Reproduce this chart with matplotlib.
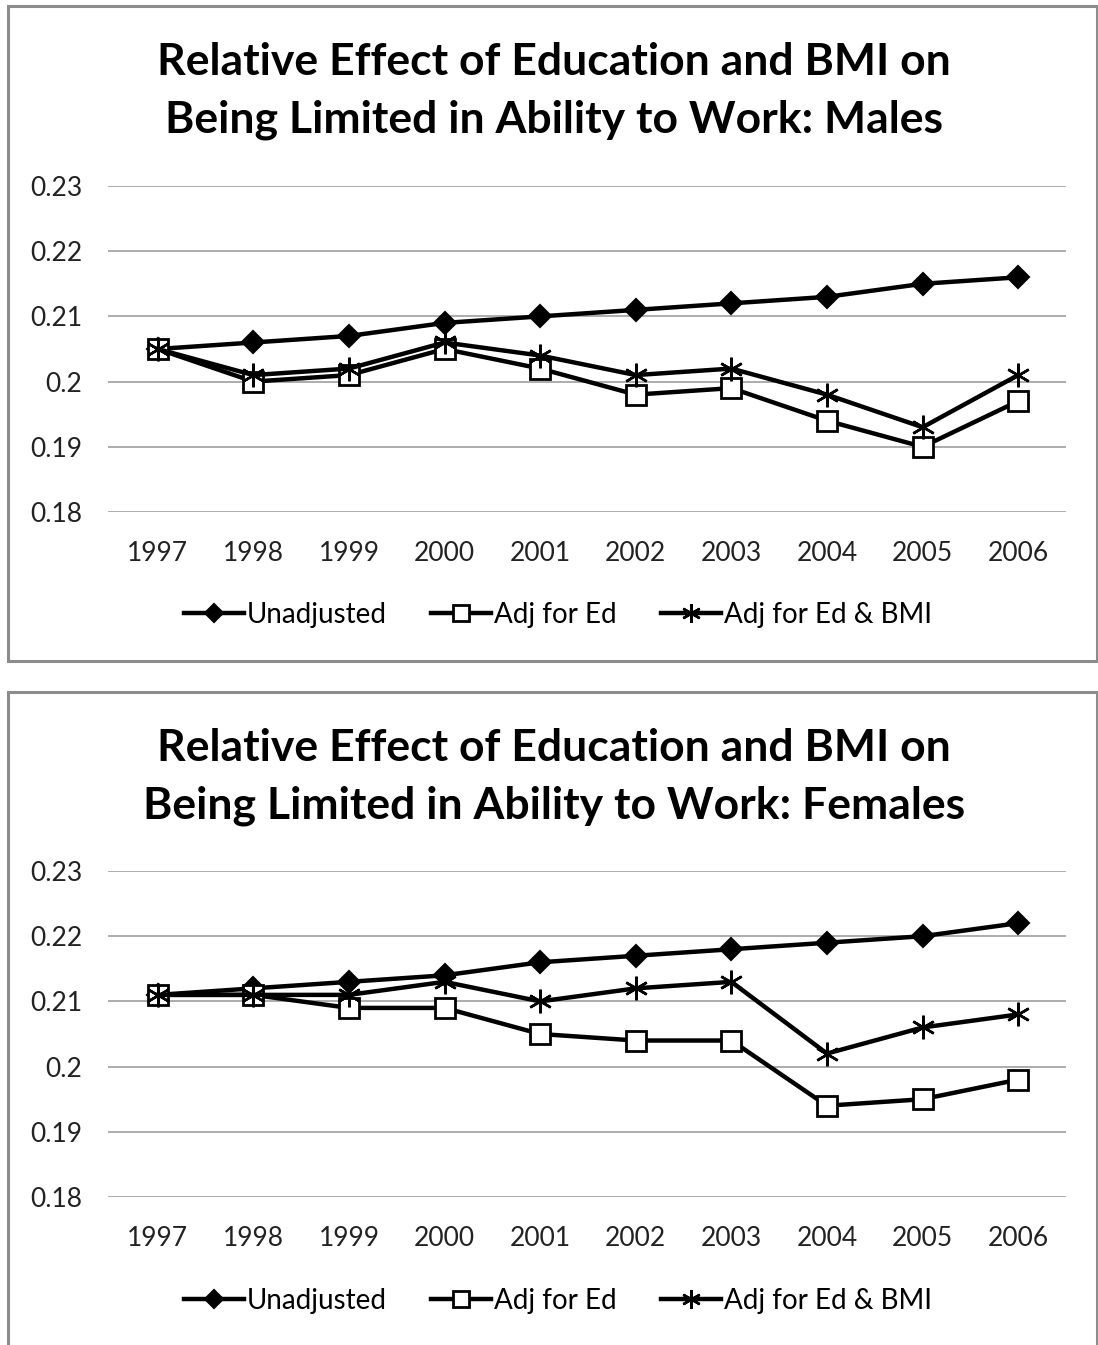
import matplotlib
matplotlib.use("Agg")
import matplotlib.pyplot as plt
from matplotlib.patches import Rectangle
from matplotlib.lines import Line2D

plt.rcParams['font.family'] = ['Lato', 'DejaVu Sans']

# ---- datos ----
years = ["1997", "1998", "1999", "2000", "2001", "2002", "2003", "2004", "2005", "2006"]
series_names = ["Unadjusted", "Adj for Ed", "Adj for Ed & BMI"]

male_unadj = [0.205, 0.206, 0.207, 0.209, 0.210, 0.211, 0.212, 0.213, 0.215, 0.216]
male_ed = [0.205, 0.200, 0.201, 0.205, 0.202, 0.198, 0.199, 0.194, 0.190, 0.197]
male_ed_bmi = [0.205, 0.201, 0.202, 0.206, 0.204, 0.201, 0.202, 0.198, 0.193, 0.201]

female_unadj = [0.211, 0.212, 0.213, 0.214, 0.216, 0.217, 0.218, 0.219, 0.220, 0.222]
female_ed = [0.211, 0.211, 0.209, 0.209, 0.205, 0.204, 0.204, 0.194, 0.195, 0.198]
female_ed_bmi = [0.211, 0.211, 0.211, 0.213, 0.210, 0.212, 0.213, 0.202, 0.206, 0.208]

y_ticks = [0.18, 0.19, 0.20, 0.21, 0.22, 0.23]
y_labels = ["0.18", "0.19", "0.2", "0.21", "0.22", "0.23"]

titles = ["Relative Effect of Education and BMI on\nBeing Limited in Ability to Work: Males",
          "Relative Effect of Education and BMI on\nBeing Limited in Ability to Work: Females"]

W, H = 1098, 1345
fig = plt.figure(figsize=(W / 100, H / 100), dpi=100)

# estilos de cada serie
estilos = [
    dict(marker="D", markersize=11, markerfacecolor="black", markeredgecolor="black", markeredgewidth=1.5),
    dict(marker="s", markersize=14, markerfacecolor="white", markeredgecolor="black", markeredgewidth=2),
    dict(marker=(6, 2, 0), markersize=17, markerfacecolor="none", markeredgecolor="black", markeredgewidth=1.8),
]

# cajas grises alrededor de cada grafico (en pixeles)
fig.patches.append(Rectangle((8 / W, (H - 661) / H), (1097 - 8) / W, (661 - 6) / H,
                             transform=fig.transFigure, fill=False, edgecolor="#8c8c8c", linewidth=2.2))
fig.patches.append(Rectangle((8 / W, -10 / H), (1097 - 8) / W, (H - 692 + 10) / H,
                             transform=fig.transFigure, fill=False, edgecolor="#8c8c8c", linewidth=2.2))


def panel(top_px, datos, titulo, title_y, legend_y):
    ax = fig.add_axes([108 / W, (H - (top_px + 326)) / H, 958 / W, 326 / H])
    x = list(range(len(years)))
    for vals, nombre, est in zip(datos, series_names, estilos):
        ax.plot(x, vals, color="black", linewidth=3.2, label=nombre, **est)
    ax.set_xlim(-0.52, 9.5)
    ax.set_ylim(0.18, 0.23)
    ax.set_yticks(y_ticks)
    ax.set_yticklabels(y_labels)
    ax.set_xticks(x)
    ax.set_xticklabels(years)
    ax.tick_params(axis="both", length=0, labelsize=19, colors="#222222")
    ax.tick_params(axis="y", pad=18.5)
    ax.tick_params(axis="x", pad=21)
    ax.grid(axis="y", color="#a6a6a6", linewidth=1.3)
    ax.set_axisbelow(True)
    for s in ax.spines.values():
        s.set_visible(False)
    fig.text(554 / W, 1 - title_y / H, titulo, ha="center", va="center",
             fontsize=32, fontweight="bold", linespacing=1.55)
    handles = [Line2D([], [], color="black", linewidth=3.2, **est) for est in estilos]
    fig.legend(handles, series_names, loc="center", bbox_to_anchor=(558 / W, 1 - legend_y / H),
               ncol=3, frameon=False, fontsize=20, handlelength=2.15, handletextpad=0.1,
               columnspacing=1.6, markerscale=0.8)
    return ax


panel(186, [male_unadj, male_ed, male_ed_bmi], titles[0], 91, 615)
panel(871, [female_unadj, female_ed, female_ed_bmi], titles[1], 777, 1301)

fig.savefig("out.png", dpi=100)
